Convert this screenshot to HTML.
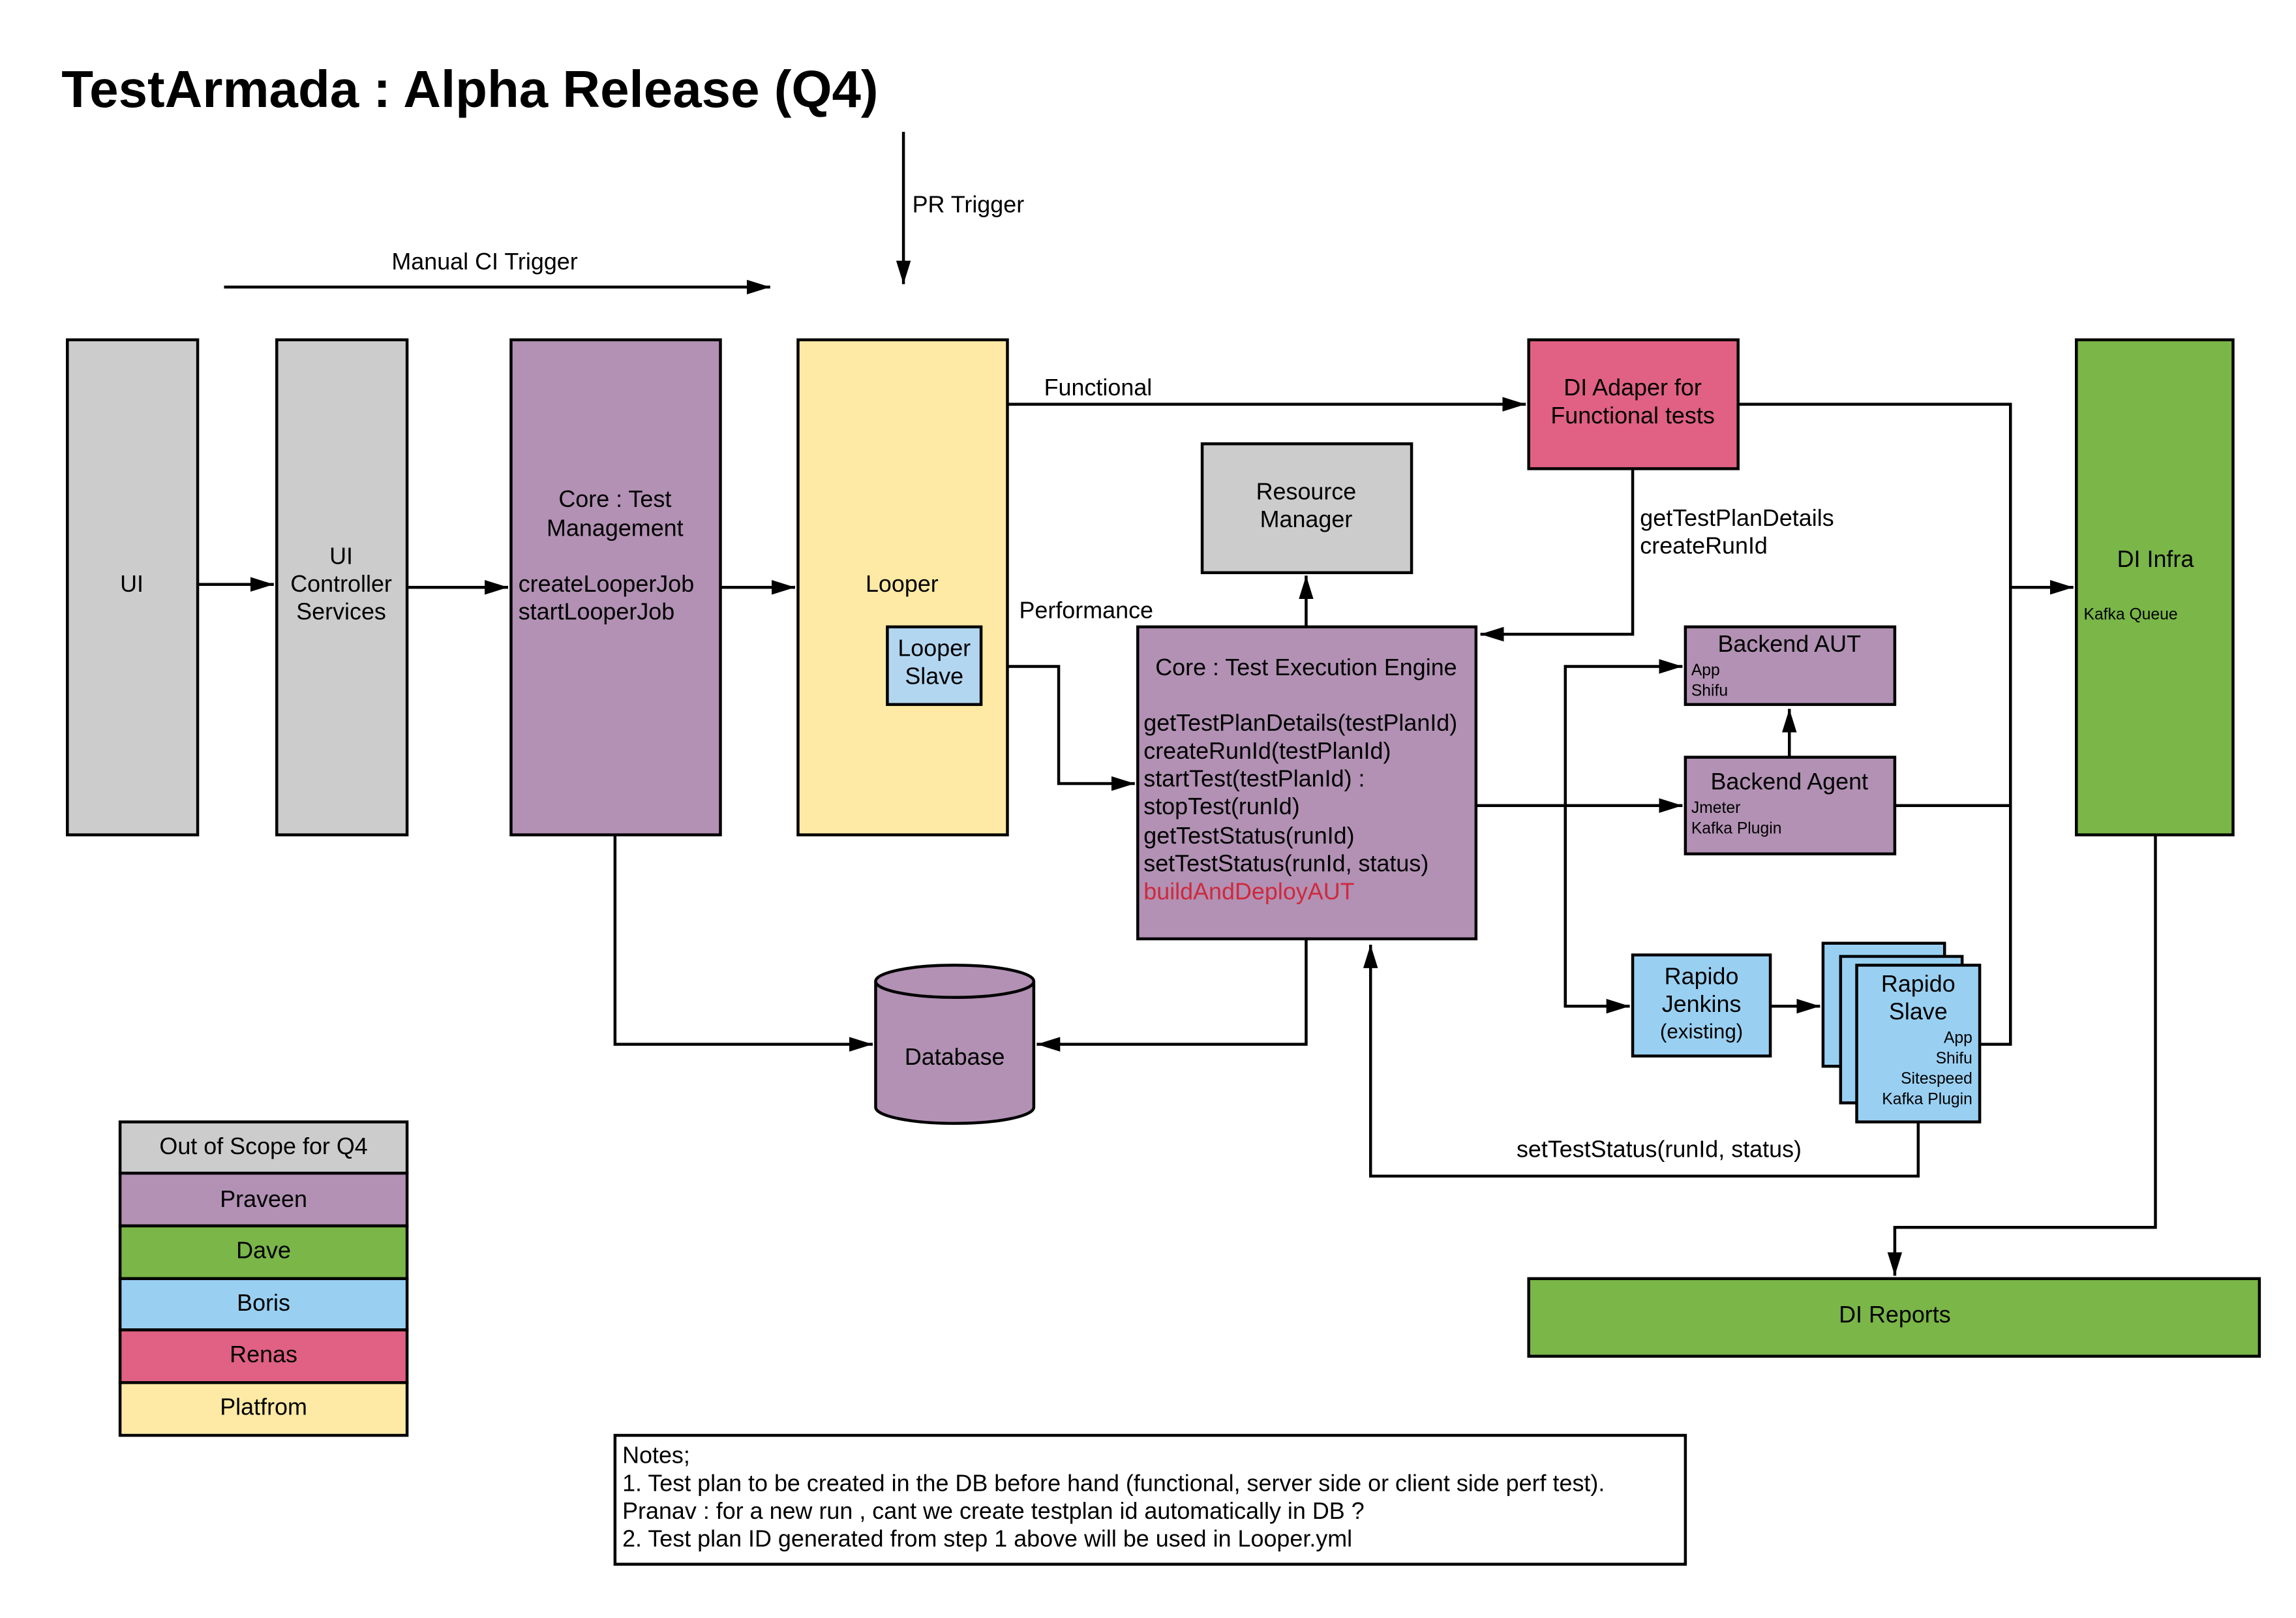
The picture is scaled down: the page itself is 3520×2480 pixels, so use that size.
<!DOCTYPE html>
<html><head><meta charset="utf-8"><style>html,body{margin:0;padding:0;background:#fff}svg{display:block}</style></head>
<body>
<svg xmlns="http://www.w3.org/2000/svg" width="3520" height="2480" viewBox="0 0 1568 1104.7" font-family="Liberation Sans, sans-serif" font-size="16">
<defs><marker id="b" markerWidth="16" markerHeight="10" refX="16" refY="5" orient="auto" markerUnits="userSpaceOnUse"><path d="M0,0 L16,5 L0,10 z" fill="#000"/></marker></defs>
<rect width="1568" height="1105" fill="#fff"/>
<text x="42" y="73" font-size="35.6" font-weight="bold">TestArmada : Alpha Release (Q4)</text>
<g stroke="#000" stroke-width="2" fill="none">
<path d="M617,90 V194" marker-end="url(#b)"/>
<path d="M153,196 H526" marker-end="url(#b)"/>
<path d="M135,399 H187" marker-end="url(#b)"/>
<path d="M278,401 H347" marker-end="url(#b)"/>
<path d="M492,401 H543" marker-end="url(#b)"/>
<path d="M688,276 H1042" marker-end="url(#b)"/>
<path d="M892,428 V393" marker-end="url(#b)"/>
<path d="M1115,320 V433 H1011" marker-end="url(#b)"/>
<path d="M670,455 H723 V535 H775" marker-end="url(#b)"/>
<path d="M420,570 V713 H596" marker-end="url(#b)"/>
<path d="M892,641 V713 H708" marker-end="url(#b)"/>
<path d="M1008,550 H1149" marker-end="url(#b)"/>
<path d="M1069,687 V455 H1149" marker-end="url(#b)"/>
<path d="M1069,550 V687 H1113" marker-end="url(#b)"/>
<path d="M1222,517 V484" marker-end="url(#b)"/>
<path d="M1294,550 H1373"/>
<path d="M1187,276 H1373 V713 H1352"/>
<path d="M1373,401 H1416" marker-end="url(#b)"/>
<path d="M1472,570 V838 H1294 V871" marker-end="url(#b)"/>
<path d="M1209,687 H1243" marker-end="url(#b)"/>
<path d="M1310,766 V803 H936 V645" marker-end="url(#b)"/>
</g>
<g stroke="#000" stroke-width="2">
<rect x="46" y="232" width="89" height="338" fill="#cccccc"/>
<rect x="189" y="232" width="89" height="338" fill="#cccccc"/>
<rect x="349" y="232" width="143" height="338" fill="#b291b4"/>
<rect x="545" y="232" width="143" height="338" fill="#ffeaa5"/>
<rect x="606" y="428" width="64" height="53" fill="#b2d6f0"/>
<rect x="1044" y="232" width="143" height="88" fill="#e06183"/>
<rect x="821" y="303" width="143" height="88" fill="#cccccc"/>
<rect x="777" y="428" width="231" height="213" fill="#b291b4"/>
<rect x="1151" y="428" width="143" height="53" fill="#b291b4"/>
<rect x="1151" y="517" width="143" height="66" fill="#b291b4"/>
<rect x="1418" y="232" width="107" height="338" fill="#7ab648"/>
<rect x="1044" y="873" width="499" height="53" fill="#7ab648"/>
<rect x="1115" y="652" width="94" height="69" fill="#99d0f2"/>
<rect x="1245" y="644" width="83" height="84" fill="#99d0f2"/>
<rect x="1257" y="653" width="83" height="100" fill="#99d0f2"/>
<rect x="1268" y="659" width="84" height="107" fill="#99d0f2"/>
<path d="M598,670 V756 A54,11 0 0 0 706,756 V670" fill="#b291b4"/>
<ellipse cx="652" cy="670" rx="54" ry="11" fill="#b291b4"/>
<rect x="82" y="766" width="196" height="35" fill="#cccccc"/>
<rect x="82" y="801" width="196" height="36" fill="#b291b4"/>
<rect x="82" y="837" width="196" height="36" fill="#7ab648"/>
<rect x="82" y="873" width="196" height="35" fill="#99d0f2"/>
<rect x="82" y="908" width="196" height="36" fill="#e06183"/>
<rect x="82" y="944" width="196" height="36" fill="#ffeaa5"/>
<rect x="420" y="980" width="731" height="88" fill="#fff"/>
</g>
<g text-anchor="middle">
<text x="90" y="404">UI</text>
<text x="233" y="385">UI</text><text x="233" y="404">Controller</text><text x="233" y="423">Services</text>
<text x="420" y="346">Core : Test</text><text x="420" y="366">Management</text>
<text x="616" y="404">Looper</text>
<text x="638" y="448">Looper</text><text x="638" y="467">Slave</text>
<text x="1115" y="270">DI Adaper for</text><text x="1115" y="289">Functional tests</text>
<text x="892" y="341">Resource</text><text x="892" y="360">Manager</text>
<text x="892" y="461">Core : Test Execution Engine</text>
<text x="652" y="727">Database</text>
<text x="1222" y="445">Backend AUT</text>
<text x="1222" y="539">Backend Agent</text>
<text x="1472" y="387">DI Infra</text>
<text x="1294" y="903">DI Reports</text>
<text x="1162" y="672">Rapido</text><text x="1162" y="691">Jenkins</text><text x="1162" y="709" font-size="14">(existing)</text>
<text x="1310" y="677">Rapido</text><text x="1310" y="696">Slave</text>
<text x="331" y="184">Manual CI Trigger</text>
<text x="1133" y="790">setTestStatus(runId, status)</text>
<text x="180" y="788">Out of Scope for Q4</text>
<text x="180" y="824">Praveen</text>
<text x="180" y="859">Dave</text>
<text x="180" y="895">Boris</text>
<text x="180" y="930">Renas</text>
<text x="180" y="966">Platfrom</text>
</g>
<text x="354" y="404">createLooperJob</text><text x="354" y="423">startLooperJob</text>
<text x="623" y="145">PR Trigger</text>
<text x="713" y="270">Functional</text>
<text x="696" y="422">Performance</text>
<text x="1120" y="359">getTestPlanDetails</text><text x="1120" y="378">createRunId</text>
<g>
<text x="781" y="499">getTestPlanDetails(testPlanId)</text>
<text x="781" y="518">createRunId(testPlanId)</text>
<text x="781" y="537">startTest(testPlanId) :</text>
<text x="781" y="556">stopTest(runId)</text>
<text x="781" y="576">getTestStatus(runId)</text>
<text x="781" y="595">setTestStatus(runId, status)</text>
<text x="781" y="614" fill="#d0283c">buildAndDeployAUT</text>
</g>
<g font-size="11">
<text x="1155" y="461">App</text><text x="1155" y="475">Shifu</text>
<text x="1155" y="555">Jmeter</text><text x="1155" y="569">Kafka Plugin</text>
<text x="1423" y="423">Kafka Queue</text>
<g text-anchor="end"><text x="1347" y="712">App</text><text x="1347" y="726">Shifu</text><text x="1347" y="740">Sitespeed</text><text x="1347" y="754">Kafka Plugin</text></g>
</g>
<g font-size="16">
<text x="425" y="999">Notes;</text>
<text x="425" y="1018">1. Test plan to be created in the DB before hand (functional, server side or client side perf test).</text>
<text x="425" y="1037">Pranav : for a new run , cant we create testplan id automatically in DB ?</text>
<text x="425" y="1056">2. Test plan ID generated from step 1 above will be used in Looper.yml</text>
</g>
</svg>
</body></html>
